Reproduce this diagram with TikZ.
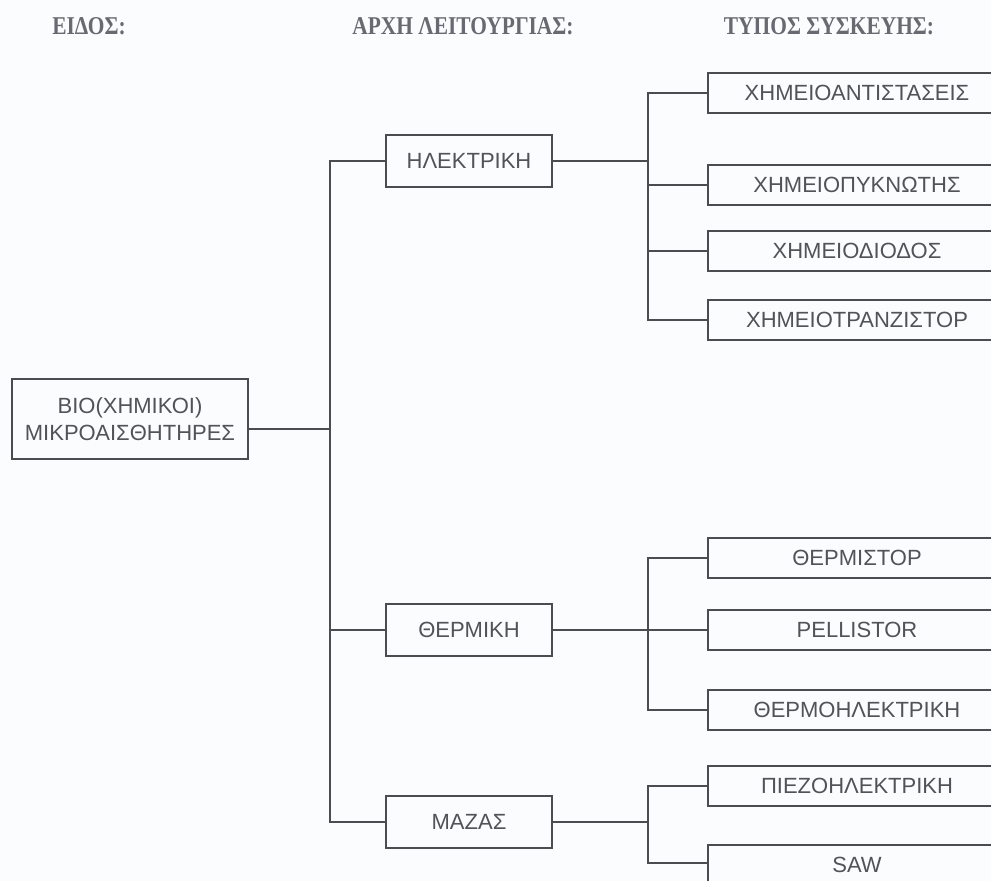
\documentclass[tikz,border=0pt]{standalone}
\usepackage{fontspec}
\setmainfont{Liberation Sans}
\newfontfamily\headfont{Liberation Serif}
\definecolor{ink}{HTML}{505357}
\definecolor{wire}{HTML}{4A4C50}
\definecolor{headink}{HTML}{676B71}
\definecolor{paper}{HTML}{FBFCFD}
\newcommand{\tallhead}[1]{\scalebox{1.02}[1.22]{#1}}
\begin{document}
\begin{tikzpicture}[x=1pt,y=-1pt,
  every node/.style={inner sep=0pt, outer sep=0pt},
  boxbase/.style={draw=wire, line width=1.6pt, text=ink, font=\fontsize{22}{27}\selectfont, align=center},
  rootbox/.style={boxbase, minimum width=236pt, minimum height=80pt},
  midbox/.style={boxbase, minimum width=166pt, minimum height=52pt},
  leafbox/.style={boxbase, minimum width=298pt, minimum height=40pt},
  heading/.style={text=headink, font=\headfont\bfseries\fontsize{21}{24}\selectfont},
  wirestyle/.style={draw=wire, line width=1.6pt}]
\useasboundingbox (0,0) rectangle (991,881);
\fill[paper] (0,0) rectangle (991,881);
\clip (0,0) rectangle (991,881);

% column headings
\node[heading] (h1) at (89,26) {\tallhead{ΕΙΔΟΣ:}};
\node[heading] (h2) at (463,26) {\tallhead{ΑΡΧΗ ΛΕΙΤΟΥΡΓΙΑΣ:}};
\node[heading] (h3) at (829,26) {\tallhead{ΤΥΠΟΣ ΣΥΣΚΕΥΗΣ:}};

% root
\node[rootbox] (root) at (130,419) {ΒΙΟ(ΧΗΜΙΚΟΙ)\\ΜΙΚΡΟΑΙΣΘΗΤΗΡΕΣ};

% operating principles
\node[midbox] (el) at (469,161) {ΗΛΕΚΤΡΙΚΗ};
\node[midbox] (th) at (469,630) {ΘΕΡΜΙΚΗ};
\node[midbox] (ma) at (469,822) {ΜΑΖΑΣ};

% device types
\node[leafbox] (e1) at (857,93) {ΧΗΜΕΙΟΑΝΤΙΣΤΑΣΕΙΣ};
\node[leafbox] (e2) at (857,185) {ΧΗΜΕΙΟΠΥΚΝΩΤΗΣ};
\node[leafbox] (e3) at (857,251) {ΧΗΜΕΙΟΔΙΟΔΟΣ};
\node[leafbox] (e4) at (857,320) {ΧΗΜΕΙΟΤΡΑΝΖΙΣΤΟΡ};
\node[leafbox] (t1) at (857,558) {ΘΕΡΜΙΣΤΟΡ};
\node[leafbox] (t2) at (857,630) {PELLISTOR};
\node[leafbox] (t3) at (857,710) {ΘΕΡΜΟΗΛΕΚΤΡΙΚΗ};
\node[leafbox] (m1) at (857,786) {ΠΙΕΖΟΗΛΕΚΤΡΙΚΗ};
\node[leafbox] (m2) at (857,865) {SAW};

% branch rails
\coordinate (trunk) at (330,0);
\coordinate (rail) at (648,0);

% root to principles
\draw[wirestyle] ([yshift=-10pt]root.east) -- ([yshift=-10pt]root.east -| trunk);
\draw[wirestyle] (el.west) -- (el.west -| trunk) |- (ma.west);
\draw[wirestyle] (th.west) -- (th.west -| trunk);

% electrical devices
\draw[wirestyle] (el.east) -- (el.east -| rail);
\draw[wirestyle] (e1.west) -- (e1.west -| rail) |- (e4.west);
\draw[wirestyle] (e2.west) -- (e2.west -| rail);
\draw[wirestyle] (e3.west) -- (e3.west -| rail);

% thermal devices
\draw[wirestyle] (th.east) -- (t2.west);
\draw[wirestyle] (t1.west) -- (t1.west -| rail) |- (t3.west);

% mass devices
\draw[wirestyle] (ma.east) -- (ma.east -| rail);
\draw[wirestyle] (m1.west) -- (m1.west -| rail) |- ([yshift=2pt]m2.west);
\end{tikzpicture}
\end{document}
